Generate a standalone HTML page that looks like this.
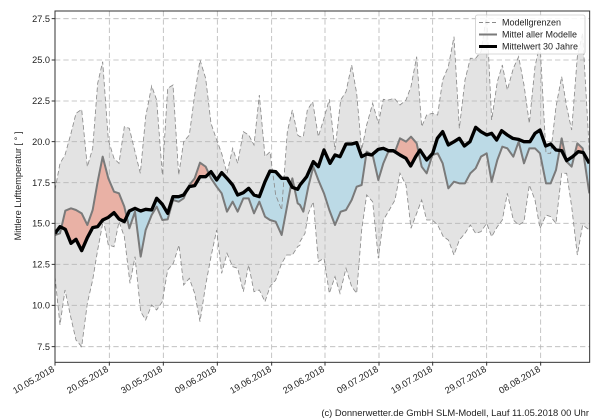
<!DOCTYPE html>
<html><head><meta charset="utf-8"><style>
html,body{margin:0;padding:0;background:#fff;}
svg{display:block;font-family:"Liberation Sans","DejaVu Sans",sans-serif;}
</style></head><body>
<svg width="600" height="420" viewBox="0 0 600 420" xmlns="http://www.w3.org/2000/svg">
<defs>
<clipPath id="plot"><rect x="165" y="33" width="1604" height="1054"/></clipPath>
<clipPath id="above"><polygon points="0,0 165,0 165,700 180,680 196,688 213,730 228,718 245,752 262,713 278,683 293,680 308,660 325,652 342,638 357,657 373,665 388,633 405,625 422,633 437,628 455,630 470,595 487,613 503,640 519,590 536,590 551,585 568,560 584,557 600,530 617,530 633,515 650,540 665,518 681,535 698,555 713,585 730,578 746,565 762,585 778,590 795,545 810,513 827,515 845,535 862,535 877,562 893,568 900,555 920,530 940,485 955,500 972,450 990,490 1005,465 1020,470 1038,432 1055,432 1070,428 1085,470 1100,462 1115,465 1135,448 1150,445 1165,452 1180,452 1200,465 1218,475 1232,498 1247,470 1260,450 1280,480 1298,460 1312,415 1328,395 1345,435 1362,425 1378,415 1393,438 1410,425 1427,382 1443,395 1460,405 1475,400 1490,420 1505,392 1522,405 1538,415 1555,418 1572,425 1590,425 1605,400 1620,390 1637,438 1652,432 1668,450 1685,452 1700,482 1718,470 1735,455 1750,458 1768,490 1800,490 1800,0"/></clipPath>
<clipPath id="below"><polygon points="0,1200 165,1200 165,700 180,680 196,688 213,730 228,718 245,752 262,713 278,683 293,680 308,660 325,652 342,638 357,657 373,665 388,633 405,625 422,633 437,628 455,630 470,595 487,613 503,640 519,590 536,590 551,585 568,560 584,557 600,530 617,530 633,515 650,540 665,518 681,535 698,555 713,585 730,578 746,565 762,585 778,590 795,545 810,513 827,515 845,535 862,535 877,562 893,568 900,555 920,530 940,485 955,500 972,450 990,490 1005,465 1020,470 1038,432 1055,432 1070,428 1085,470 1100,462 1115,465 1135,448 1150,445 1165,452 1180,452 1200,465 1218,475 1232,498 1247,470 1260,450 1280,480 1298,460 1312,415 1328,395 1345,435 1362,425 1378,415 1393,438 1410,425 1427,382 1443,395 1460,405 1475,400 1490,420 1505,392 1522,405 1538,415 1555,418 1572,425 1590,425 1605,400 1620,390 1637,438 1652,432 1668,450 1685,452 1700,482 1718,470 1735,455 1750,458 1768,490 1800,490 1800,1200"/></clipPath>
</defs>
<g transform="scale(0.33333)">
<g clip-path="url(#plot)">
<polygon fill="#e3e3e3" stroke="none" points="165,570 180,490 195,465 213,400 228,340 245,328 262,500 278,445 293,250 308,185 325,420 342,475 357,490 373,380 388,385 405,455 421,520 437,350 455,258 470,300 487,525 503,265 519,255 536,525 551,425 568,405 584,285 600,180 617,235 633,370 650,420 665,460 681,520 698,445 713,490 730,395 746,405 762,435 778,285 795,470 810,455 827,585 845,630 862,395 877,330 893,405 900,410 910,410 922,330 938,305 955,410 972,355 988,298 1005,450 1022,300 1038,275 1055,195 1070,280 1085,450 1100,375 1118,310 1135,370 1150,298 1165,300 1183,295 1200,315 1218,300 1233,260 1250,170 1265,380 1280,345 1297,340 1313,345 1328,240 1345,200 1362,110 1378,385 1395,240 1411,175 1427,175 1443,155 1460,45 1475,360 1492,245 1507,195 1522,270 1540,205 1556,170 1572,255 1588,370 1605,200 1620,130 1638,460 1652,460 1668,320 1685,230 1700,320 1715,390 1732,170 1748,100 1768,455 1768,690 1748,675 1732,765 1715,620 1700,520 1685,520 1668,670 1652,650 1638,645 1620,685 1605,600 1588,555 1572,665 1556,675 1540,660 1522,580 1507,660 1492,680 1475,710 1460,670 1443,695 1427,700 1411,675 1395,700 1378,720 1362,765 1345,720 1330,710 1313,675 1297,660 1280,660 1265,600 1250,640 1233,685 1218,555 1200,520 1185,600 1168,630 1150,660 1135,775 1118,605 1100,585 1085,690 1070,880 1055,860 1038,805 1020,880 1005,830 988,880 972,775 955,785 940,605 925,640 915,700 900,725 893,740 877,765 860,765 845,790 827,840 810,860 795,905 778,870 762,875 746,795 730,875 713,805 698,800 681,760 665,820 650,690 633,770 617,855 600,965 584,880 568,835 551,855 537,735 520,790 503,810 487,905 470,930 455,915 437,960 422,935 405,770 390,850 373,710 357,665 342,740 325,735 310,660 293,750 278,840 262,910 245,1040 228,1020 212,950 195,870 180,975 165,830"/>
<g stroke="#b8b8b8" stroke-width="2.5" stroke-dasharray="16,9" fill="none">
<path d="M165,56H1769M165,180H1769M165,303H1769M165,425H1769M165,548H1769M165,670H1769M165,793H1769M165,916H1769M165,1040H1769"/>
<path d="M328,33V1087M490,33V1087M652,33V1087M815,33V1087M975,33V1087M1137,33V1087M1298,33V1087M1460,33V1087M1622,33V1087"/>
</g>
<polygon id="dp" fill-rule="nonzero" fill="#e9b1a5" clip-path="url(#above)" points="165,705 180,700 196,632 213,625 228,630 245,640 262,675 278,630 293,545 308,470 325,535 342,575 357,580 373,620 388,685 405,635 422,770 437,690 455,645 470,620 487,660 503,658 519,600 536,605 551,595 568,555 584,535 600,488 617,500 633,535 650,560 665,580 681,635 698,605 713,635 730,595 746,595 762,640 778,605 795,650 810,660 827,665 845,705 862,615 877,535 893,610 900,615 910,635 925,560 940,500 955,540 972,580 988,630 1005,675 1022,635 1038,630 1055,600 1070,560 1085,555 1100,455 1118,465 1135,540 1150,490 1165,455 1185,455 1200,415 1218,425 1233,410 1250,430 1265,500 1280,520 1297,465 1313,460 1328,490 1345,565 1362,545 1378,550 1395,550 1411,520 1427,505 1443,470 1460,460 1475,545 1492,480 1507,440 1522,445 1540,470 1556,425 1572,490 1588,445 1605,445 1620,460 1638,550 1652,550 1668,510 1685,415 1700,485 1715,500 1732,430 1748,445 1768,580 1768,490 1750,458 1735,455 1718,470 1700,482 1685,452 1668,450 1652,432 1637,438 1620,390 1605,400 1590,425 1572,425 1555,418 1538,415 1522,405 1505,392 1490,420 1475,400 1460,405 1443,395 1427,382 1410,425 1393,438 1378,415 1362,425 1345,435 1328,395 1312,415 1298,460 1280,480 1260,450 1247,470 1232,498 1218,475 1200,465 1180,452 1165,452 1150,445 1135,448 1115,465 1100,462 1085,470 1070,428 1055,432 1038,432 1020,470 1005,465 990,490 972,450 955,500 940,485 920,530 900,555 893,568 877,562 862,535 845,535 827,515 810,513 795,545 778,590 762,585 746,565 730,578 713,585 698,555 681,535 665,518 650,540 633,515 617,530 600,530 584,557 568,560 551,585 536,590 519,590 503,640 487,613 470,595 455,630 437,628 422,633 405,625 388,633 373,665 357,657 342,638 325,652 308,660 293,680 278,683 262,713 245,752 228,718 213,730 196,688 180,680 165,700"/>
<polygon fill-rule="nonzero" fill="#bcdae6" clip-path="url(#below)" points="165,705 180,700 196,632 213,625 228,630 245,640 262,675 278,630 293,545 308,470 325,535 342,575 357,580 373,620 388,685 405,635 422,770 437,690 455,645 470,620 487,660 503,658 519,600 536,605 551,595 568,555 584,535 600,488 617,500 633,535 650,560 665,580 681,635 698,605 713,635 730,595 746,595 762,640 778,605 795,650 810,660 827,665 845,705 862,615 877,535 893,610 900,615 910,635 925,560 940,500 955,540 972,580 988,630 1005,675 1022,635 1038,630 1055,600 1070,560 1085,555 1100,455 1118,465 1135,540 1150,490 1165,455 1185,455 1200,415 1218,425 1233,410 1250,430 1265,500 1280,520 1297,465 1313,460 1328,490 1345,565 1362,545 1378,550 1395,550 1411,520 1427,505 1443,470 1460,460 1475,545 1492,480 1507,440 1522,445 1540,470 1556,425 1572,490 1588,445 1605,445 1620,460 1638,550 1652,550 1668,510 1685,415 1700,485 1715,500 1732,430 1748,445 1768,580 1768,490 1750,458 1735,455 1718,470 1700,482 1685,452 1668,450 1652,432 1637,438 1620,390 1605,400 1590,425 1572,425 1555,418 1538,415 1522,405 1505,392 1490,420 1475,400 1460,405 1443,395 1427,382 1410,425 1393,438 1378,415 1362,425 1345,435 1328,395 1312,415 1298,460 1280,480 1260,450 1247,470 1232,498 1218,475 1200,465 1180,452 1165,452 1150,445 1135,448 1115,465 1100,462 1085,470 1070,428 1055,432 1038,432 1020,470 1005,465 990,490 972,450 955,500 940,485 920,530 900,555 893,568 877,562 862,535 845,535 827,515 810,513 795,545 778,590 762,585 746,565 730,578 713,585 698,555 681,535 665,518 650,540 633,515 617,530 600,530 584,557 568,560 551,585 536,590 519,590 503,640 487,613 470,595 455,630 437,628 422,633 405,625 388,633 373,665 357,657 342,638 325,652 308,660 293,680 278,683 262,713 245,752 228,718 213,730 196,688 180,680 165,700"/>
<g fill="none" stroke="#8a8a8a" stroke-width="2.5" stroke-dasharray="14,8">
<polyline points="165,570 180,490 195,465 213,400 228,340 245,328 262,500 278,445 293,250 308,185 325,420 342,475 357,490 373,380 388,385 405,455 421,520 437,350 455,258 470,300 487,525 503,265 519,255 536,525 551,425 568,405 584,285 600,180 617,235 633,370 650,420 665,460 681,520 698,445 713,490 730,395 746,405 762,435 778,285 795,470 810,455 827,585 845,630 862,395 877,330 893,405 900,410 910,410 922,330 938,305 955,410 972,355 988,298 1005,450 1022,300 1038,275 1055,195 1070,280 1085,450 1100,375 1118,310 1135,370 1150,298 1165,300 1183,295 1200,315 1218,300 1233,260 1250,170 1265,380 1280,345 1297,340 1313,345 1328,240 1345,200 1362,110 1378,385 1395,240 1411,175 1427,175 1443,155 1460,45 1475,360 1492,245 1507,195 1522,270 1540,205 1556,170 1572,255 1588,370 1605,200 1620,130 1638,460 1652,460 1668,320 1685,230 1700,320 1715,390 1732,170 1748,100 1768,455"/>
<polyline points="165,830 180,975 195,870 212,950 228,1020 245,1040 262,910 278,840 293,750 310,660 325,735 342,740 357,665 373,710 390,850 405,770 422,935 437,960 455,915 470,930 487,905 503,810 520,790 537,735 551,855 568,835 584,880 600,965 617,855 633,770 650,690 665,820 681,760 698,800 713,805 730,875 746,795 762,875 778,870 795,905 810,860 827,840 845,790 860,765 877,765 893,740 900,735 900,725 915,700 925,640 940,605 955,785 972,775 988,880 1005,830 1020,880 1038,805 1055,860 1070,880 1085,690 1100,585 1118,605 1135,775 1150,660 1168,630 1185,600 1200,520 1218,555 1233,685 1250,640 1265,600 1280,660 1297,660 1313,675 1330,710 1345,720 1362,765 1378,720 1395,700 1411,675 1427,700 1443,695 1460,670 1475,710 1492,680 1507,660 1522,580 1540,660 1556,675 1572,665 1588,555 1605,600 1620,685 1638,645 1652,650 1668,670 1685,520 1700,520 1715,620 1732,765 1748,675 1768,690"/>
</g>
<polyline fill="none" stroke="#7a7a7a" stroke-width="6" stroke-linejoin="round" points="165,705 180,700 196,632 213,625 228,630 245,640 262,675 278,630 293,545 308,470 325,535 342,575 357,580 373,620 388,685 405,635 422,770 437,690 455,645 470,620 487,660 503,658 519,600 536,605 551,595 568,555 584,535 600,488 617,500 633,535 650,560 665,580 681,635 698,605 713,635 730,595 746,595 762,640 778,605 795,650 810,660 827,665 845,705 862,615 877,535 893,610 900,615 910,635 925,560 940,500 955,540 972,580 988,630 1005,675 1022,635 1038,630 1055,600 1070,560 1085,555 1100,455 1118,465 1135,540 1150,490 1165,455 1185,455 1200,415 1218,425 1233,410 1250,430 1265,500 1280,520 1297,465 1313,460 1328,490 1345,565 1362,545 1378,550 1395,550 1411,520 1427,505 1443,470 1460,460 1475,545 1492,480 1507,440 1522,445 1540,470 1556,425 1572,490 1588,445 1605,445 1620,460 1638,550 1652,550 1668,510 1685,415 1700,485 1715,500 1732,430 1748,445 1768,580"/>
<polyline fill="none" stroke="#000" stroke-width="10" stroke-linejoin="round" points="165,700 180,680 196,688 213,730 228,718 245,752 262,713 278,683 293,680 308,660 325,652 342,638 357,657 373,665 388,633 405,625 422,633 437,628 455,630 470,595 487,613 503,640 519,590 536,590 551,585 568,560 584,557 600,530 617,530 633,515 650,540 665,518 681,535 698,555 713,585 730,578 746,565 762,585 778,590 795,545 810,513 827,515 845,535 862,535 877,562 893,568 900,555 920,530 940,485 955,500 972,450 990,490 1005,465 1020,470 1038,432 1055,432 1070,428 1085,470 1100,462 1115,465 1135,448 1150,445 1165,452 1180,452 1200,465 1218,475 1232,498 1247,470 1260,450 1280,480 1298,460 1312,415 1328,395 1345,435 1362,425 1378,415 1393,438 1410,425 1427,382 1443,395 1460,405 1475,400 1490,420 1505,392 1522,405 1538,415 1555,418 1572,425 1590,425 1605,400 1620,390 1637,438 1652,432 1668,450 1685,452 1700,482 1718,470 1735,455 1750,458 1768,490"/>
</g>
<rect x="165" y="33" width="1604" height="1054" fill="none" stroke="#333" stroke-width="3"/>
<path stroke="#333" stroke-width="3" d="M165,56h-10M165,180h-10M165,303h-10M165,425h-10M165,548h-10M165,670h-10M165,793h-10M165,916h-10M165,1040h-10M165,1087v10M328,1087v10M490,1087v10M652,1087v10M815,1087v10M975,1087v10M1137,1087v10M1298,1087v10M1460,1087v10M1622,1087v10"/>
</g>
<g font-size="9.2" fill="#222" text-anchor="end">
<text x="50" y="21.8">27.5</text><text x="50" y="63.2">25.0</text><text x="50" y="104.2">22.5</text><text x="50" y="144.8">20.0</text><text x="50" y="185.8">17.5</text><text x="50" y="226.3">15.0</text><text x="50" y="267.3">12.5</text><text x="50" y="308.3">10.0</text><text x="50" y="349.8">7.5</text>
</g>
<text transform="translate(21,186) rotate(-90)" font-size="9.2" fill="#222" text-anchor="middle">Mittlere Lufttemperatur [ ° ]</text>
<g font-size="9.2" fill="#222" text-anchor="end">
<text transform="translate(55,371) rotate(-30)">10.05.2018</text>
<text transform="translate(109,371) rotate(-30)">20.05.2018</text>
<text transform="translate(163,371) rotate(-30)">30.05.2018</text>
<text transform="translate(217,371) rotate(-30)">09.06.2018</text>
<text transform="translate(272,371) rotate(-30)">19.06.2018</text>
<text transform="translate(325,371) rotate(-30)">29.06.2018</text>
<text transform="translate(379,371) rotate(-30)">09.07.2018</text>
<text transform="translate(433,371) rotate(-30)">19.07.2018</text>
<text transform="translate(487,371) rotate(-30)">29.07.2018</text>
<text transform="translate(541,371) rotate(-30)">08.08.2018</text>
</g>
<rect x="475.5" y="15" width="109.5" height="39" rx="2" fill="#fff" fill-opacity="0.85" stroke="#ccc" stroke-width="0.8"/>
<line x1="479" y1="22.5" x2="497" y2="22.5" stroke="#8a8a8a" stroke-width="1" stroke-dasharray="4,2.5"/>
<line x1="479" y1="34.5" x2="497" y2="34.5" stroke="#7a7a7a" stroke-width="2"/>
<line x1="479" y1="46.5" x2="497" y2="46.5" stroke="#000" stroke-width="3"/>
<g font-size="9" fill="#222">
<text x="502" y="25.5">Modellgrenzen</text>
<text x="502" y="37.5">Mittel aller Modelle</text>
<text x="502" y="49.5">Mittelwert 30 Jahre</text>
</g>
<text x="589" y="416" font-size="9.4" fill="#222" text-anchor="end">(c) Donnerwetter.de GmbH SLM-Modell, Lauf 11.05.2018 00 Uhr</text>
</svg>
</body></html>
